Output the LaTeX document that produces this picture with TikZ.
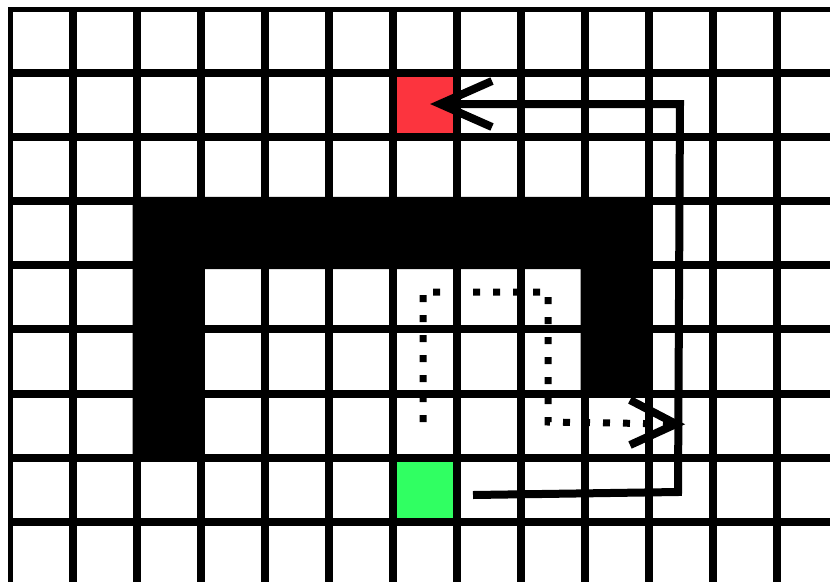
\documentclass[tikz,border=0pt]{standalone}
\definecolor{goalred}{RGB}{252,52,62}
\definecolor{startgreen}{RGB}{48,255,98}
\begin{document}
\begin{tikzpicture}[x=1pt,y=-1pt,
  gridline/.style={line width=8pt},
  wall/.style={fill=black},
  route/.style={line width=8pt, line join=miter},
  dotroute/.style={line width=7pt, dash pattern=on 7pt off 13pt},
  head/.style={line width=8pt, line join=miter, miter limit=10}]
\useasboundingbox (0,0) rectangle (830,582);
\fill[white] (0,0) rectangle (830,582);
% coloured cells
\fill[goalred] (392.5,72.5) rectangle (456.5,136.7);
\fill[startgreen] (392.5,457.7) rectangle (456.5,521.9);
% grid
\begin{scope}
\clip (8,7.5) rectangle (830,582);
\foreach \k in {0,...,12} \draw[gridline] ({8.5+64*\k},0) -- ({8.5+64*\k},582);
\foreach \k in {0,...,8} \draw[gridline] (0,{8.3+64.2*\k}) -- (830,{8.3+64.2*\k});
\end{scope}
% wall
\fill[wall] (132.5,196.9) -- (652.5,196.9) -- (652.5,397.5) -- (580.5,397.5)
  -- (580.5,269.1) -- (204.5,269.1) -- (204.5,461.7) -- (132.5,461.7) -- cycle;
% solid route
\coordinate (s0) at (473,495);
\coordinate (s1) at (678,492);
\coordinate (s2) at (680,104);
\coordinate (s3) at (440,104);
\coordinate (sa) at (492,81);
\coordinate (sb) at (492,127);
\draw[route] (s0) -- (s1) -- (s2) -- (s3);
\draw[head] (sa) -- (s3) -- (sb);
% dotted route
\coordinate (d0) at (423,422);
\coordinate (d1) at (423,292);
\coordinate (d2) at (548,292);
\coordinate (d3) at (548,422);
\coordinate (d4) at (676,424);
\coordinate (da) at (630,400);
\coordinate (db) at (630,445);
\draw[dotroute] (d0) -- (d1) -- (d2) -- (d3) -- (d4);
\draw[head] (da) -- (d4) -- (db);
\end{tikzpicture}
\end{document}
